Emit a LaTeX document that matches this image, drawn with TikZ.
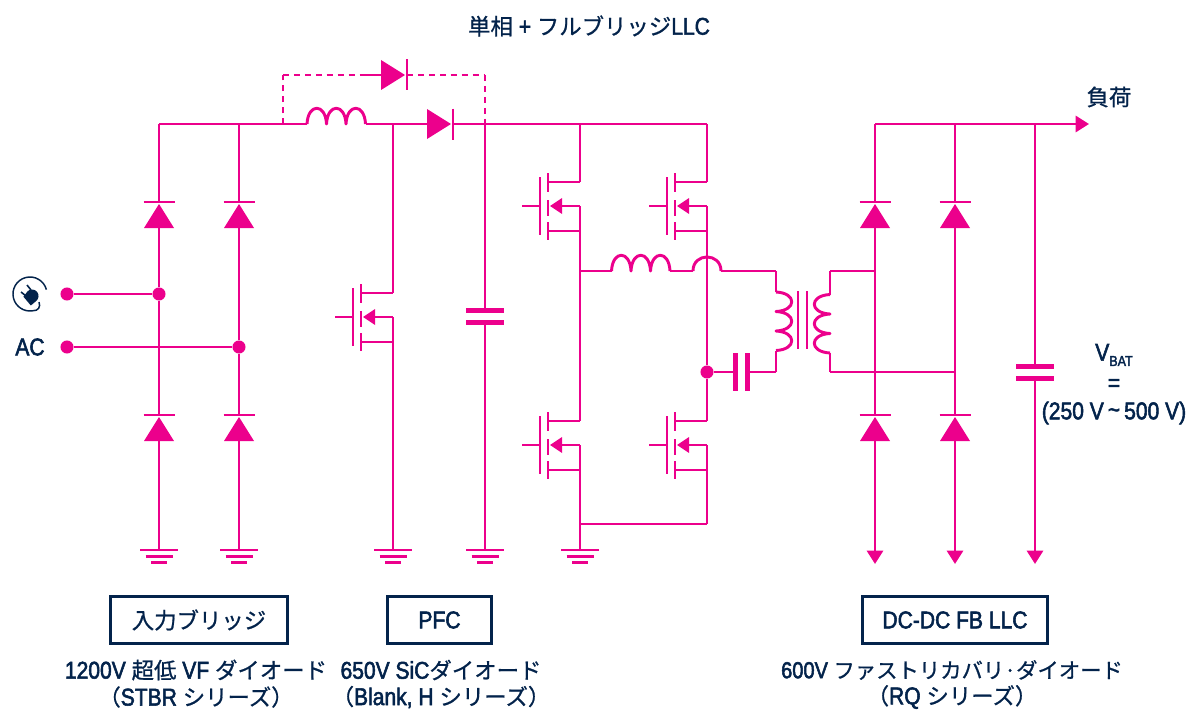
\documentclass[tikz,border=0pt]{standalone}
\usepackage{fontspec}
\setmainfont{Liberation Sans}[Scale=1.08,FakeStretch=0.87,FakeBold=2.2]
\newfontfamily\jp{Noto Sans CJK JP}[FakeBold=0.8]
\definecolor{rosa}{RGB}{236, 0, 140}
\definecolor{marino}{RGB}{3, 35, 75}
\usetikzlibrary{arrows.meta,positioning}
\tikzstyle{edge}  =[rosa, line width=2.2pt, line join=round]
\tikzstyle{dashedge}=[rosa, line width=2.2pt, dash pattern=on 4.6pt off 3.6pt]
\tikzstyle{junction}=[circle, fill=rosa, minimum size=9.8pt,
                    inner sep=0pt, outer sep=0pt]
\tikzstyle{labelbox}=[draw=marino, line width=1.9pt, minimum height=35pt,
                    inner sep=0pt, text=marino]
\tikzstyle{caption}=[inner sep=0pt, text=marino, font=\fontsize{16.8}{18}\selectfont]
\tikzset{
    diode/.pic={
        \draw [edge] (-15.5,0) -- (15.5,0);
        \fill [rosa] (0,2) -- (15,26) -- (-15,26) -- cycle;
        \coordinate (-top) at (0,0);
        \coordinate (-bottom) at (0,26);
    },
    capa/.pic={
        \fill [rosa] (-19,-8.5) rectangle (19,-3.5);
        \fill [rosa] (-19,3.5) rectangle (19,8.5);
        \coordinate (-a) at (0,-6);
        \coordinate (-b) at (0,6);
    },
    gnd/.pic={
        \draw [edge] (-19,0) -- (19,0);
        \draw [edge] (-13.5,6.3) -- (13.5,6.3);
        \draw [edge] (-8,12.6) -- (8,12.6);
        \coordinate (-top) at (0,0);
    },
    coil/.pic={
        \draw [edge] (0,0) .. controls (1,-21) and (18.5,-21) .. (19.5,0)
            .. controls (20.5,-21) and (38,-21) .. (39,0)
            .. controls (40,-21) and (57.5,-21) .. (58.5,0);
        \coordinate (-in) at (0,0);
        \coordinate (-out) at (58.5,0);
    },
    mosfet/.pic={
        \draw [edge] (-26,0) -- (-8,0);
        \draw [edge] (-8,-29) -- (-8,29);
        \draw [edge] (0,-33) -- (0,-14);
        \draw [edge] (0,-6) -- (0,10);
        \draw [edge] (0,16) -- (0,34);
        \draw [edge] (0,-24) -- (32,-24);
        \draw [edge] (12,0) -- (32,0);
        \draw [edge] (0,25) -- (32,25);
        \draw [edge] (32,0) -- (32,25);
        \fill [rosa] (2,0) -- (14,-8) -- (14,8) -- cycle;
        \coordinate (-d) at (32,-24);
        \coordinate (-b) at (32,25);
    }
}

\begin{document}
\begin{tikzpicture}[x=0.75pt,y=-0.75pt]
    \useasboundingbox (0,0) rectangle (1188,710);

    \foreach \i/\x/\y in {r1/159/124,r2/239/124,r3/283/124,r4/393/124,r5/485/124,r6/580/124,r7/707/124,
        u1/283/75,u2/360/75,u3/485/75,
        n1/580/271,n2/580/524,n4/707/524,h1/693/271,h2/721/271,t1/776/271,t2/776/372,
        s1/830/271,s2/875/271,s3/830/372,s4/875/372,s5/955/372,
        q1/875/124,q2/955/124,q3/1035/124,q4/1089/124,a1/875/564,a2/955/564,a3/1035/564,
        w1/67/294,w2/67/347}
        \coordinate (\i) at (\x,\y);

    \foreach \i/\x/\y in {d1/159/202,d2/159/415,d3/239/202,d4/239/415,d5/875/202,d6/875/415,d7/955/202,d8/955/415}
        \pic (\i) at (\x,\y) {diode};
    \pic (d9) [rotate=-90] at (453,124) {diode};
    \pic (d10) [rotate=-90] at (407,75) {diode};

    \foreach \i/\x/\y in {m1/361/317,m2/548/206,m3/675/206,m4/548/445,m5/675/445}
        \pic (\i) at (\x,\y) {mosfet};

    \foreach \i/\x in {g1/159,g2/239,g3/393,g4/485,g5/580}
        \pic (\i) at (\x,550) {gnd};

    \pic (c1) at (485,316) {capa};
    \pic (c2) [rotate=-90] at (741,372) {capa};
    \pic (c3) at (1035,372) {capa};

    \pic (l1) at (307,124) {coil};
    \pic (l2) at (611.5,271) {coil};
    \pic (t3) [rotate=-90] at (776,292) {coil};
    \pic (t4) [rotate=90] at (830,353) {coil};

    \draw [edge] (798,291) -- (798,349);
    \draw [edge] (807,291) -- (807,349);

    \node (j1) [junction] at (159,294) {};
    \node (j2) [junction] at (239,347) {};
    \node (j3) [junction] at (707,372) {};
    \node (j4) [junction] at (w1) {};
    \node (j5) [junction] at (w2) {};

    \foreach \i/\j in {r1/r2,r2/r3,r3/l1-in,l1-out/r4,r4/d9-bottom,d9-top/r5,r5/r6,r6/r7,u2/d10-bottom,
        r1/d1-top,d1-bottom/j1,j1/d2-top,d2-bottom/g1-top,
        r2/d3-top,d3-bottom/j2,j2/d4-top,d4-bottom/g2-top,
        j4/j1,j5/j2,
        r4/m1-d,m1-b/g3-top,
        r5/c1-a,c1-b/g4-top,
        r6/m2-d,m2-b/n1,n1/m4-d,m4-b/n2,n2/g5-top,
        r7/m3-d,m3-b/j3,j3/m5-d,m5-b/n4,n2/n4,
        n1/l2-in,l2-out/h1,h2/t1,t1/t3-in,t3-out/t2,t2/c2-a,c2-b/j3,
        t4-out/s1,s1/s2,t4-in/s3,s3/s4,s4/s5,
        q1/q2,q2/q3,
        q1/d5-top,d5-bottom/s2,s2/s4,s4/d6-top,
        q2/d7-top,d7-bottom/s5,s5/d8-top,
        q3/c3-a}
        \draw [edge] (\i) to (\j);

    \foreach \i/\j in {r3/u1,u1/u2,d10-top/u3,u3/r5}
        \draw [dashedge] (\i) to (\j);

    \foreach \i/\j in {d6-bottom/a1,d8-bottom/a2,c3-b/a3,q3/q4}
        \draw [edge,-{Triangle[length=10pt,width=12pt]}] (\i) to (\j);

    \draw [edge] (h1) .. controls +(0,-18.7) and +(0,-18.7) .. (h2);

    \draw [marino, line width=1.1pt] (46.4,289.6) arc[start angle=15,end angle=280,radius=12.75pt]
        .. controls (38,311) and (41,307) .. (39,302);
    \fill [marino, rotate around={40:(32,296)}] (25,291) -- (32,289.5) arc[start angle=90,end angle=-90,radius=4.9pt] -- (25,302.5) -- cycle;
    \draw [marino, line width=1.2pt] (26,296) -- (21,292);
    \draw [marino, line width=1.2pt] (31,290) -- (27,285);

    \node (titulo) [caption] at (589,26) {{\jp 単相} + {\jp フルブリッジ}LLC};
    \node (carga) [caption] at (1109,97) {\jp 負荷};
    \node (ac) [caption] at (30,347) {AC};
    \node (vbat) [caption] at (1114,355) {V\raisebox{-4pt}{\fontsize{10}{11}\selectfont BAT}};
    \node (igual) [caption] at (1114,385) {=};
    \node (rango) [caption] at (1114,413) {(250 V\,\raisebox{1pt}{\textasciitilde}\,500 V)};

    \node (box1) [labelbox, minimum width=133pt] at (199,620) {\fontsize{16.8}{18}\selectfont\jp 入力ブリッジ};
    \node (box2) [labelbox, minimum width=78pt] at (439.5,620) {\fontsize{16.8}{18}\selectfont PFC};
    \node (box3) [labelbox, minimum width=139pt] at (955,620) {\fontsize{16.8}{18}\selectfont DC-DC FB LLC};

    \node (cap1) [caption] at (196,670) {1200V {\jp 超低} VF {\jp ダイオード}};
    \node (cap2) [caption] at (196,697) {{\jp （}STBR {\jp シリーズ）}};
    \node (cap3) [caption] at (441,670) {650V SiC{\jp ダイオード}};
    \node (cap4) [caption] at (441,697) {{\jp （}Blank, H {\jp シリーズ）}};
    \node (cap5) [caption, font=\fontsize{16}{18}\selectfont] at (952,670) {600V {\jp ファストリカバリ·ダイオード}};
    \node (cap6) [caption] at (952,697) {{\jp （}RQ {\jp シリーズ）}};
\end{tikzpicture}
\end{document}
